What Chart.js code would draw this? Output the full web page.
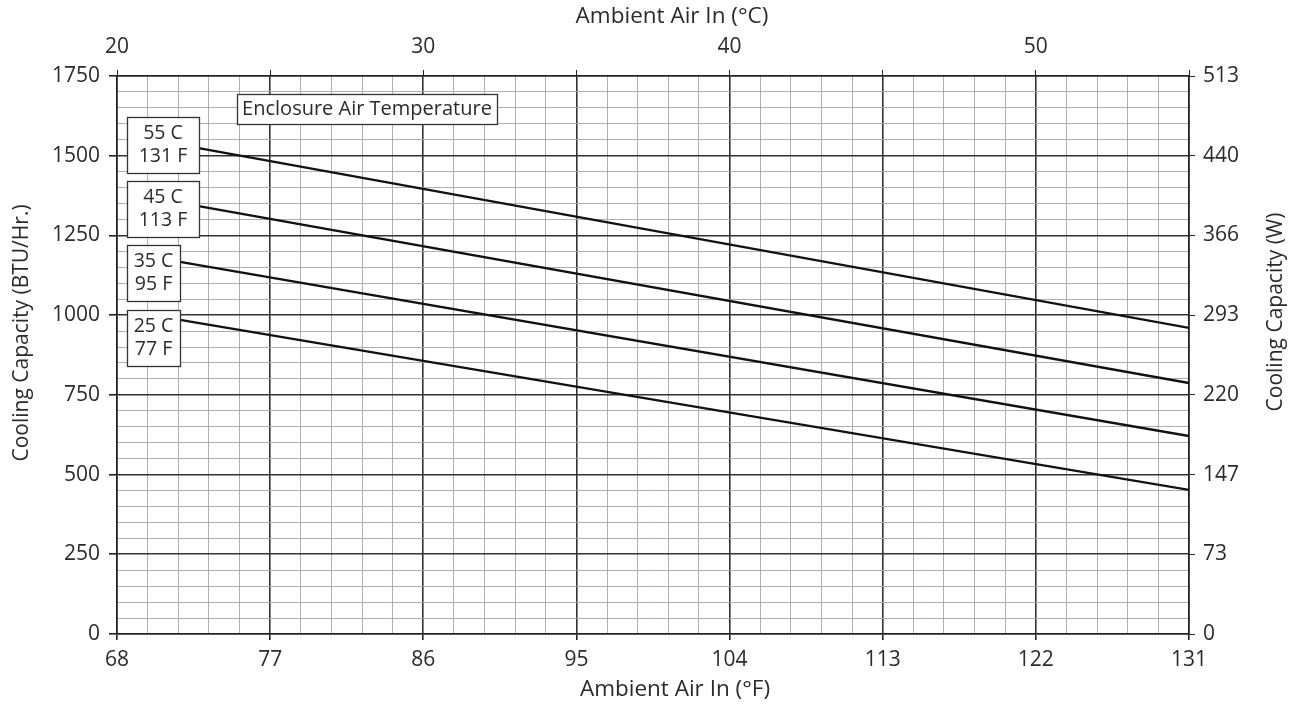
<!DOCTYPE html>
<html><head><meta charset="utf-8">
<script src="https://cdn.jsdelivr.net/npm/chart.js@4.4.1/dist/chart.umd.min.js"></script>
<style>html,body{margin:0;padding:0;background:#fff;overflow:hidden}</style>
</head><body>
<canvas id="c" width="1300" height="709"></canvas>
<script>
// ---- data ----
const seriesLabelC = ["55 C", "45 C", "35 C", "25 C"];
const seriesLabelF = ["131 F", "113 F", "95 F", "77 F"];
const xStartF = [72.8, 72.8, 71.7, 71.7];   // ambient °F where each line starts
const xEndF   = [131, 131, 131, 131];
const yStartBTU = [1524, 1342, 1167, 985];
const yEndBTU   = [960, 787, 621, 452];
const bottomTickLabels = ["68", "77", "86", "95", "104", "113", "122", "131"]; // °F every 5 °C
const topTickLabels = ["20", "30", "40", "50"];                                 // °C every 10
const leftTickLabels = ["0", "250", "500", "750", "1000", "1250", "1500", "1750"];
const rightTickLabels = ["0", "73", "147", "220", "293", "366", "440", "513"];   // W

const FONT = "'Open Sans', 'Noto Sans', sans-serif";
const TXT = '#2b2b2b';
const MAJOR = '#333333', MINOR = '#a6a6a6';
const fToC = f => (f - 32) / 1.8;

const datasets = seriesLabelC.map((lab, i) => ({
  label: lab + ' / ' + seriesLabelF[i],
  data: [{x: fToC(xStartF[i]), y: yStartBTU[i]}, {x: fToC(xEndF[i]), y: yEndBTU[i]}],
  borderColor: '#111', borderWidth: 2.4, pointRadius: 0, fill: false, tension: 0
}));

const isMaj = (v, step) => Math.abs(v / step - Math.round(v / step)) < 1e-6;

const overlay = {
  id: 'overlay',
  afterDatasetsDraw(chart) {
    const ctx = chart.ctx, ca = chart.chartArea;
    ctx.save();
    function box(x, y, w, h, lines, size) {
      ctx.fillStyle = '#fff';
      ctx.fillRect(x, y, w, h);
      ctx.strokeStyle = '#333'; ctx.lineWidth = 1.3;
      ctx.strokeRect(x + 0.5, y + 0.5, w, h);
      ctx.fillStyle = TXT; ctx.font = size + 'px ' + FONT;
      ctx.textAlign = 'center'; ctx.textBaseline = 'middle';
      const lh = 22.5;
      const cy = y + h / 2 - (lines.length - 1) * lh / 2;
      lines.forEach((t, k) => ctx.fillText(t, x + w / 2, cy + k * lh));
    }
    const bx = ca.left + 10;
    const tops = [117, 181, 245, 310], widths = [72, 72, 53, 53];
    seriesLabelC.forEach((c, i) => box(bx, tops[i], widths[i], 56, [c, seriesLabelF[i]], 19.5));
    box(ca.left + 120, 94, 260, 30, ['Enclosure Air Temperature'], 20);

    // axis titles
    ctx.fillStyle = TXT; ctx.font = '22.5px ' + FONT;
    ctx.textAlign = 'center'; ctx.textBaseline = 'middle';
    ctx.fillText('Ambient Air In (°C)', 672, 17);
    ctx.fillText('Ambient Air In (°F)', 675, 690);
    ctx.font = '21px ' + FONT;
    ctx.save(); ctx.translate(22, 333); ctx.rotate(-Math.PI / 2);
    ctx.fillText('Cooling Capacity (BTU/Hr.)', 0, 0); ctx.restore();
    ctx.save(); ctx.translate(1276, 312); ctx.rotate(-Math.PI / 2);
    ctx.fillText('Cooling Capacity (W)', 0, 0); ctx.restore();
    ctx.restore();
  }
};

const tickFont = {family: FONT, size: 21};
new Chart(document.getElementById('c'), {
  type: 'line',
  data: {datasets},
  plugins: [overlay],
  options: {
    responsive: false, animation: false, devicePixelRatio: 1,
    layout: {padding: 0},
    plugins: {legend: {display: false}, tooltip: {enabled: false}},
    scales: {
      x: {
        type: 'linear', position: 'bottom', min: 20, max: 55,
        afterFit: s => { s.height = 75; },
        border: {display: true, color: '#222', width: 1.6},
        grid: {
          color: c => isMaj(c.tick.value, 5) ? MAJOR : MINOR,
          lineWidth: c => isMaj(c.tick.value, 5) ? 1.6 : 0.9,
          tickColor: c => isMaj(c.tick.value, 5) ? '#222' : 'rgba(0,0,0,0)',
          tickLength: 6, drawTicks: true
        },
        ticks: {
          stepSize: 1, autoSkip: false, maxRotation: 0, padding: 7, color: TXT, font: tickFont,
          callback: v => isMaj(v, 5) ? bottomTickLabels[Math.round((v - 20) / 5)] : ''
        }
      },
      x2: {
        type: 'linear', position: 'top', min: 20, max: 55,
        afterFit: s => { s.height = 76; },
        border: {display: true, color: '#222', width: 1.6},
        grid: {
          drawOnChartArea: false,
          tickColor: c => isMaj(c.tick.value, 5) ? '#222' : 'rgba(0,0,0,0)',
          tickLength: 6
        },
        ticks: {
          stepSize: 1, autoSkip: false, maxRotation: 0, padding: 10, color: TXT, font: tickFont,
          callback: v => isMaj(v, 10) ? topTickLabels[Math.round((v - 20) / 10)] : ''
        }
      },
      y: {
        type: 'linear', position: 'left', min: 0, max: 1750,
        afterFit: s => { s.width = 117; },
        border: {display: true, color: '#222', width: 1.6},
        grid: {
          color: c => isMaj(c.tick.value, 250) ? MAJOR : MINOR,
          lineWidth: c => isMaj(c.tick.value, 250) ? 1.6 : 0.9,
          tickColor: c => isMaj(c.tick.value, 250) ? '#222' : 'rgba(0,0,0,0)',
          tickLength: 8
        },
        ticks: {
          stepSize: 50, autoSkip: false, padding: 9, color: TXT, font: tickFont,
          callback: v => isMaj(v, 250) ? leftTickLabels[Math.round(v / 250)] : ''
        }
      },
      y2: {
        type: 'linear', position: 'right', min: 0, max: 1750,
        afterFit: s => { s.width = 111; },
        border: {display: true, color: '#222', width: 1.6},
        grid: {drawOnChartArea: false, tickColor: '#222', tickLength: 6},
        ticks: {
          stepSize: 250, autoSkip: false, padding: 8, color: TXT, font: tickFont,
          callback: v => rightTickLabels[Math.round(v / 250)]
        }
      }
    }
  }
});
</script>
</body></html>
